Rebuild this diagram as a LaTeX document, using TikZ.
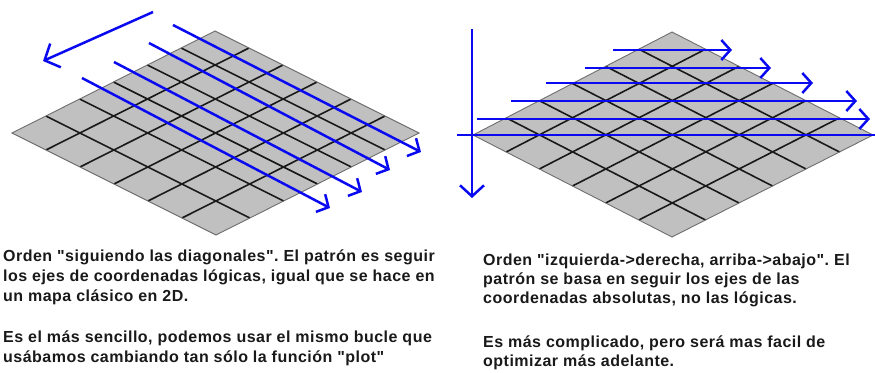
\documentclass[tikz,border=0pt]{standalone}
\usepackage{fontspec}
\setmainfont{Liberation Sans}[LetterSpace=3, Ligatures=TeXOff]
\usetikzlibrary{arrows.meta,calc}
\definecolor{tilegray}{HTML}{C0C0C0}
\definecolor{edgegray}{HTML}{6E6E6E}
\definecolor{walkblue}{HTML}{0A0AF0}
\tikzset{
  walk/.style={draw=walkblue, line width=2.5pt, -{Straight Barb[length=9pt,width=20pt]}},
  gridline/.style={line width=1.6pt, black!90},
  board/.style={draw=edgegray, line width=0.9pt},
  caption/.style={align=left, anchor=base west, inner sep=0pt, text=black!90,
    font=\fontsize{16}{#1}\selectfont\bfseries\frenchspacing},
  caption/.default=20,
}
\begin{document}
\begin{tikzpicture}[x=1pt,y=-1pt]
  \useasboundingbox (0,0) rectangle (875,372);
  % left board
  \coordinate (lt) at (215,31);
  \coordinate (ll) at (12,133);
  \coordinate (lb) at (216,235);
  \coordinate (lr) at (419,133);
  \fill[tilegray] (lt) -- (lr) -- (lb) -- (ll) -- cycle;
  \foreach \i in {1,...,5} {
    \draw[gridline] ($(ll)!\i/6!(lt)$) -- ($(lb)!\i/6!(lr)$);
    \draw[gridline] ($(ll)!\i/6!(lb)$) -- ($(lt)!\i/6!(lr)$);
  }
  \draw[board] (lt) -- (lr) -- (lb) -- (ll) -- cycle;
  \draw[walk, -{Straight Barb[length=12pt,width=26pt]}] (153,12) -- (43,61);
  \draw[walk] (173,25) -- (421,152);
  \draw[walk] (149,43) -- (390,170);
  \draw[walk] (114,62) -- (362,192);
  \draw[walk] (82,78) -- (330,208);

  % right board
  \coordinate (rt) at (672,32);
  \coordinate (rl) at (473,135);
  \coordinate (rb) at (672,237);
  \coordinate (rr) at (873,135);
  \fill[tilegray] (rt) -- (rr) -- (rb) -- (rl) -- cycle;
  \foreach \i in {1,...,5} {
    \draw[gridline] ($(rl)!\i/6!(rt)$) -- ($(rb)!\i/6!(rr)$);
    \draw[gridline] ($(rl)!\i/6!(rb)$) -- ($(rt)!\i/6!(rr)$);
  }
  \draw[board] (rt) -- (rr) -- (rb) -- (rl) -- cycle;
  \draw[walk, -{Straight Barb[length=11pt,width=24pt]}] (472,29) -- (472,198);
  \draw[walk, -] (457,135) -- (875,135);
  \draw[walk] (477,119) -- (870,119);
  \draw[walk] (511,101) -- (857,101);
  \draw[walk] (546,83) -- (813,83);
  \draw[walk] (585,68) -- (771,68);
  \draw[walk] (613,50) -- (732,50);

  % notes (anchored on the last line)
  \node[caption] (leftnote) at (3,362) {Orden "siguiendo las diagonales". El patrón es seguir\\
    los ejes de coordenadas lógicas, igual que se hace en\\
    un mapa clásico en 2D.\\[21pt]
    Es el más sencillo, podemos usar el mismo bucle que\\
    usábamos cambiando tan sólo la función "plot"};
  \node[caption=19] (rightnote) at (483,366) {Orden "izquierda->derecha, arriba->abajo". El\\
    patrón se basa en seguir los ejes de las\\
    coordenadas absolutas, no las lógicas.\\[25pt]
    Es más complicado, pero será mas facil de\\
    optimizar más adelante.};
\end{tikzpicture}
\end{document}
